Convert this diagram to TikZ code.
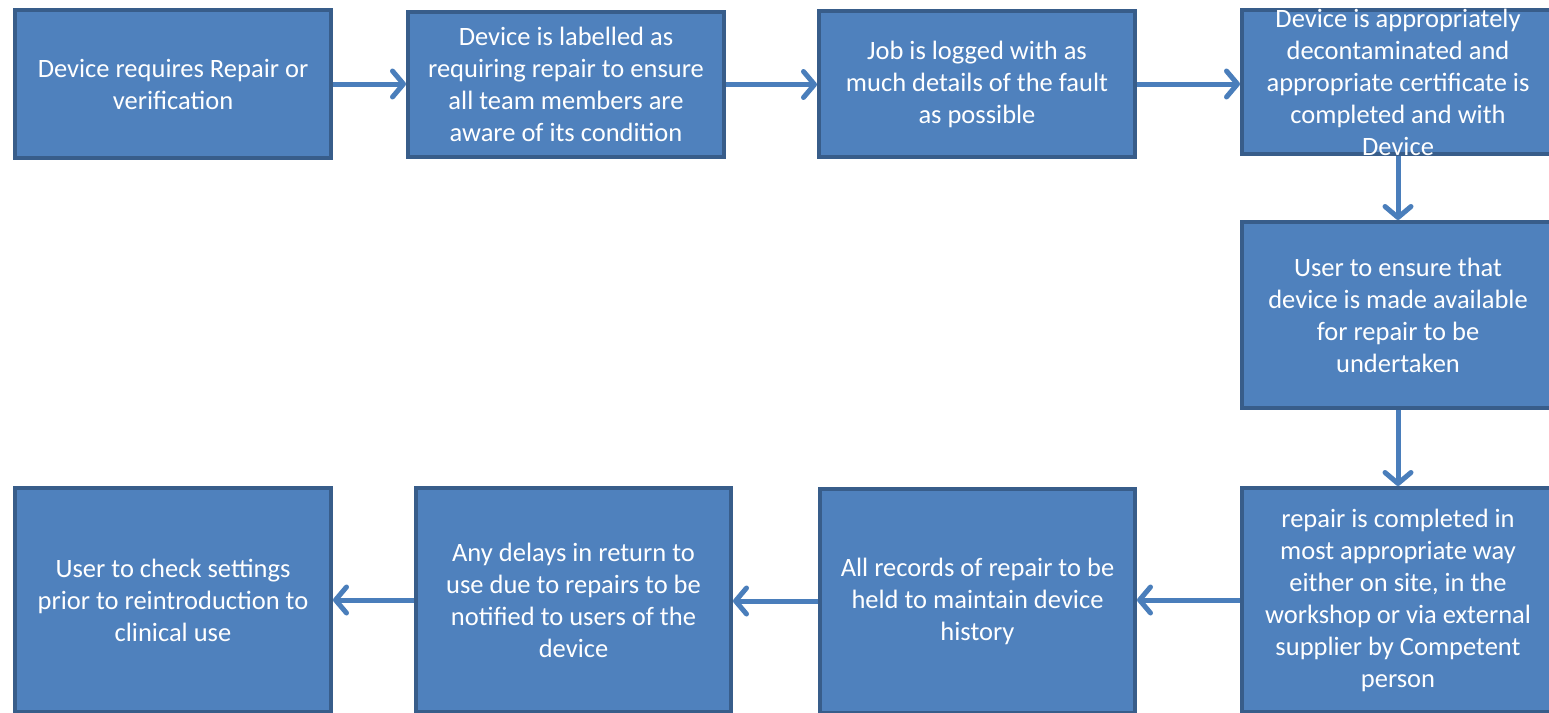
\documentclass[tikz,border=0pt]{standalone}
\usepackage{fontspec}
\setmainfont{Carlito}
\usetikzlibrary{arrows.meta}
\definecolor{boxfill}{HTML}{4F81BD}
\definecolor{boxline}{HTML}{385D8A}
\definecolor{arrowc}{HTML}{4A7EBB}
\tikzset{
  box/.style={draw=boxline, line width=4pt, fill=boxfill, rectangle, inner sep=0pt,
    text=white, align=center, font=\fontsize{26.5}{32}\selectfont},
  boxtext/.style={text=white, align=center, inner sep=0pt, font=\fontsize{26.5}{32}\selectfont},
  flow/.style={draw=arrowc, line width=5pt, -{Straight Barb[length=11pt,width=26pt,line width=5pt,round]}},
}
\begin{document}
\begin{tikzpicture}[x=1pt,y=-1pt]
\useasboundingbox (0,0) rectangle (1549,712);
\clip (0,0) rectangle (1549,712);
\fill[white] (0,0) rectangle (1549,712);
\node[box, minimum width=316pt, minimum height=148pt] (b1) at (173,84) {Device requires Repair or\\verification};
\node[box, minimum width=316pt, minimum height=145pt] (b2) at (566,84.5) {Device is labelled as\\requiring repair to ensure\\all team members are\\aware of its condition};
\node[box, minimum width=316pt, minimum height=146pt] (b3) at (977,84) {Job is logged with as\\much details of the fault\\as possible};
\node[box, minimum width=312pt, minimum height=144pt] (b4) at (1398,82) {};
\node[boxtext] at (b4.center) {Device is appropriately\\decontaminated and\\appropriate certificate is\\completed and with\\Device};
\node[box, minimum width=312pt, minimum height=186pt] (b5) at (1398,315) {User to ensure that\\device is made available\\for repair to be\\undertaken};
\node[box, minimum width=312pt, minimum height=224pt] (b6) at (1398,600) {repair is completed in\\most appropriate way\\either on site, in the\\workshop or via external\\supplier by Competent\\person};
\node[box, minimum width=315pt, minimum height=224pt] (b7) at (977.5,601) {All records of repair to be\\held to maintain device\\history};
\node[box, minimum width=315pt, minimum height=224pt] (b8) at (573.5,600) {Any delays in return to\\use due to repairs to be\\notified to users of the\\device};
\node[box, minimum width=316pt, minimum height=224pt] (b9) at (173,600) {User to check settings\\prior to reintroduction to\\clinical use};
\draw[flow] (b1.east) -- (b2.west |- b1.east);
\draw[flow] (b2.east) -- (b3.west |- b2.east);
\draw[flow] (b3.east) -- (b4.west |- b3.east);
\draw[flow] (b4.south) -- (b5.north);
\draw[flow] (b5.south) -- (b6.north);
\draw[flow] (b6.west) -- (b7.east |- b6.west);
\draw[flow] (b7.west) -- (b8.east |- b7.west);
\draw[flow] (b8.west) -- (b9.east |- b8.west);
\end{tikzpicture}
\end{document}
